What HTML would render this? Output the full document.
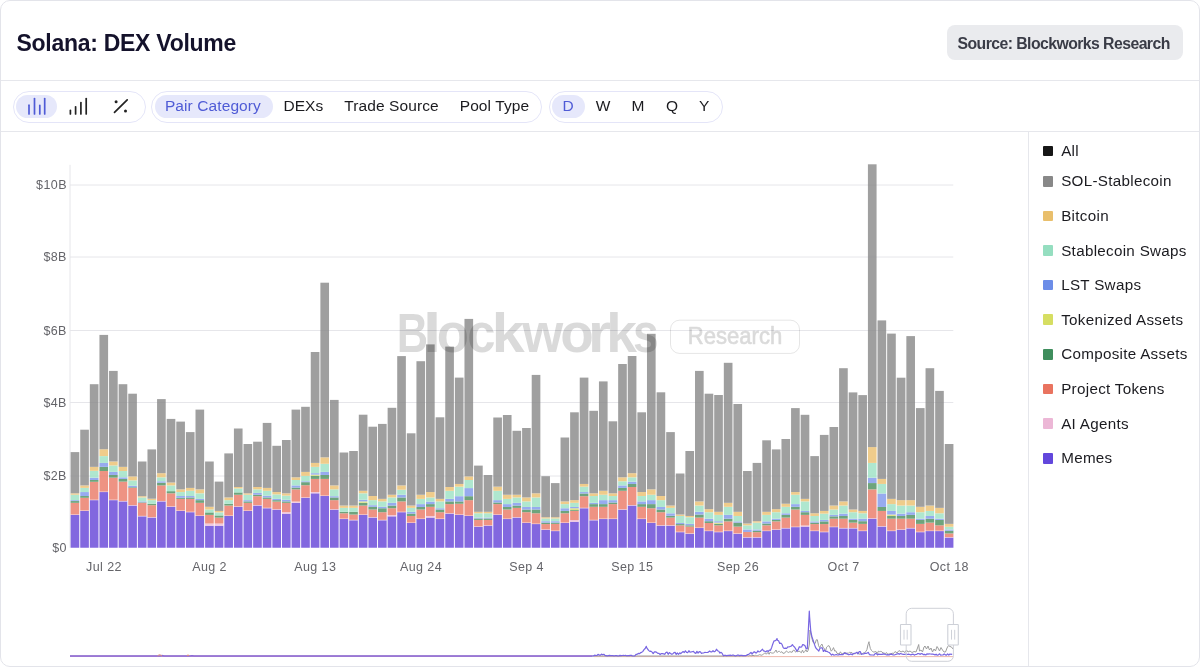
<!DOCTYPE html>
<html><head><meta charset="utf-8"><title>Solana: DEX Volume</title>
<style>
*{box-sizing:border-box;margin:0;padding:0}
html,body{width:1200px;height:667px;overflow:hidden;background:#fff;font-family:"Liberation Sans",sans-serif}
.card{position:absolute;left:0;top:0;width:1200px;height:667px;overflow:hidden;will-change:transform}
.frame{position:absolute;left:0;top:0;width:1200px;height:667px;border:1px solid #e3e4ea;border-radius:10px;pointer-events:none}
.title{position:absolute;left:16.5px;top:29.5px;font-size:23px;font-weight:700;color:#14122b;letter-spacing:-0.28px;white-space:nowrap}
.badge{position:absolute;left:946.5px;top:25px;width:236px;height:34.5px;background:#eaebee;border-radius:8px}
.badge span{position:absolute;left:11px;top:9.6px;font-size:15.8px;font-weight:700;color:#3a3c47;white-space:nowrap;letter-spacing:-0.56px}
.hl{position:absolute;left:0;width:1200px;height:1px;background:#e6e7ec}
.vl{position:absolute;left:1027.5px;top:131px;width:1px;height:536px;background:#e6e7ec}
.pill{position:absolute;top:90.5px;height:32px;border:1px solid #e4e5f8;border-radius:16px}
.sel{position:absolute;top:94.5px;height:23.8px;background:#e6e8fb;border-radius:12px}
.tab{position:absolute;top:97.4px;font-size:15.5px;color:#1b1b1f;white-space:nowrap;letter-spacing:0.1px}
.tab.on{color:#4f5bd6}
.sw{position:absolute;left:1042.6px;width:10.7px;height:10.7px;border-radius:1px}
.lt{position:absolute;left:1061.2px;font-size:15.2px;color:#1b1b20;white-space:nowrap;letter-spacing:0.3px}
svg{position:absolute;left:0;top:0}
.ax{font-family:"Liberation Sans",sans-serif;font-size:12.5px;fill:#646469;letter-spacing:0.42px}
</style></head>
<body>
<div class="card">
<div class="title">Solana: DEX Volume</div>
<div class="badge"><span>Source: Blockworks Research</span></div>
<div class="hl" style="top:80px"></div>
<div class="hl" style="top:131px"></div>
<div class="vl"></div>

<div class="pill" style="left:12.5px;width:133px"></div>
<div class="sel" style="left:15.8px;width:41.5px"></div>
<svg width="160" height="130" style="left:0;top:0">
<g stroke="#4f5bd6" stroke-width="1.7" stroke-linecap="round">
<line x1="29" y1="105.2" x2="29" y2="114"/><line x1="34.5" y1="98.5" x2="34.5" y2="114"/>
<line x1="39.8" y1="105.4" x2="39.8" y2="114"/><line x1="44.7" y1="98.5" x2="44.7" y2="114"/>
</g>
<g stroke="#222" stroke-width="1.7" stroke-linecap="round">
<line x1="70.4" y1="110.4" x2="70.4" y2="114"/><line x1="75.6" y1="106.8" x2="75.6" y2="114"/>
<line x1="80.9" y1="102.5" x2="80.9" y2="114"/><line x1="86.2" y1="98.5" x2="86.2" y2="114"/>
</g>
<g fill="#222" stroke="#222">
<line x1="114.5" y1="112.4" x2="127.2" y2="99.8" stroke-width="1.7" stroke-linecap="round"/>
<circle cx="116.1" cy="101.8" r="1.5" stroke="none"/><circle cx="125.5" cy="111" r="1.5" stroke="none"/>
</g>
</svg>

<div class="pill" style="left:151.3px;width:390.5px"></div>
<div class="sel" style="left:154.5px;width:118px"></div>
<div class="tab on" style="left:164.9px">Pair Category</div>
<div class="tab" style="left:283.4px">DEXs</div>
<div class="tab" style="left:344.2px">Trade Source</div>
<div class="tab" style="left:459.7px">Pool Type</div>

<div class="pill" style="left:548.7px;width:174.8px"></div>
<div class="sel" style="left:552px;width:33px"></div>
<div class="tab on" style="left:562.6px">D</div>
<div class="tab" style="left:595.8px">W</div>
<div class="tab" style="left:631.5px">M</div>
<div class="tab" style="left:666px">Q</div>
<div class="tab" style="left:699px">Y</div>

<svg width="1028" height="667" viewBox="0 0 1028 667">
<line x1="70" y1="164.8" x2="70" y2="547.75" stroke="#e6e6ea" stroke-width="1"/>
<text x="66.9" y="552.0" text-anchor="end" class="ax">$0</text>
<line x1="70" y1="476.00" x2="953.3" y2="476.00" stroke="#e6e6ea" stroke-width="1"/>
<text x="66.9" y="480.3" text-anchor="end" class="ax">$2B</text>
<line x1="70" y1="402.50" x2="953.3" y2="402.50" stroke="#e6e6ea" stroke-width="1"/>
<text x="66.9" y="406.8" text-anchor="end" class="ax">$4B</text>
<line x1="70" y1="330.50" x2="953.3" y2="330.50" stroke="#e6e6ea" stroke-width="1"/>
<text x="66.9" y="334.8" text-anchor="end" class="ax">$6B</text>
<line x1="70" y1="257.00" x2="953.3" y2="257.00" stroke="#e6e6ea" stroke-width="1"/>
<text x="66.9" y="261.3" text-anchor="end" class="ax">$8B</text>
<line x1="70" y1="185.00" x2="953.3" y2="185.00" stroke="#e6e6ea" stroke-width="1"/>
<text x="66.9" y="189.3" text-anchor="end" class="ax">$10B</text>
<g opacity="0.8">
<rect x="70.62" y="514.89" width="8.65" height="32.86" fill="#6342d8"/>
<rect x="70.62" y="514.44" width="8.65" height="0.45" fill="#efbad7"/>
<rect x="70.62" y="502.84" width="8.65" height="11.60" fill="#ea7965"/>
<rect x="70.62" y="501.04" width="8.65" height="1.80" fill="#4a8e5c"/>
<rect x="70.62" y="500.14" width="8.65" height="0.90" fill="#7e97ec"/>
<rect x="70.62" y="494.75" width="8.65" height="5.40" fill="#9ce2c4"/>
<rect x="70.62" y="493.31" width="8.65" height="1.44" fill="#ecc06f"/>
<rect x="70.62" y="452.10" width="8.65" height="41.21" fill="#888888"/>
<rect x="80.23" y="510.94" width="8.65" height="36.81" fill="#6342d8"/>
<rect x="80.23" y="510.49" width="8.65" height="0.45" fill="#efbad7"/>
<rect x="80.23" y="497.81" width="8.65" height="12.68" fill="#ea7965"/>
<rect x="80.23" y="496.01" width="8.65" height="1.80" fill="#4a8e5c"/>
<rect x="80.23" y="492.05" width="8.65" height="3.96" fill="#7e97ec"/>
<rect x="80.23" y="487.91" width="8.65" height="4.14" fill="#9ce2c4"/>
<rect x="80.23" y="485.40" width="8.65" height="2.52" fill="#ecc06f"/>
<rect x="80.23" y="429.70" width="8.65" height="55.70" fill="#888888"/>
<rect x="89.83" y="500.14" width="8.65" height="47.61" fill="#6342d8"/>
<rect x="89.83" y="499.69" width="8.65" height="0.45" fill="#efbad7"/>
<rect x="89.83" y="481.80" width="8.65" height="17.90" fill="#ea7965"/>
<rect x="89.83" y="480.00" width="8.65" height="1.80" fill="#4a8e5c"/>
<rect x="89.83" y="477.66" width="8.65" height="2.34" fill="#7e97ec"/>
<rect x="89.83" y="470.83" width="8.65" height="6.83" fill="#9ce2c4"/>
<rect x="89.83" y="466.87" width="8.65" height="3.96" fill="#ecc06f"/>
<rect x="89.83" y="384.20" width="8.65" height="82.67" fill="#888888"/>
<rect x="99.44" y="492.05" width="8.65" height="55.70" fill="#6342d8"/>
<rect x="99.44" y="491.60" width="8.65" height="0.45" fill="#efbad7"/>
<rect x="99.44" y="471.01" width="8.65" height="20.59" fill="#ea7965"/>
<rect x="99.44" y="466.87" width="8.65" height="4.14" fill="#4a8e5c"/>
<rect x="99.44" y="462.91" width="8.65" height="3.96" fill="#7e97ec"/>
<rect x="99.44" y="456.08" width="8.65" height="6.83" fill="#9ce2c4"/>
<rect x="99.44" y="449.24" width="8.65" height="6.83" fill="#ecc06f"/>
<rect x="99.44" y="334.90" width="8.65" height="114.34" fill="#888888"/>
<rect x="109.04" y="500.14" width="8.65" height="47.61" fill="#6342d8"/>
<rect x="109.04" y="499.69" width="8.65" height="0.45" fill="#efbad7"/>
<rect x="109.04" y="477.66" width="8.65" height="22.03" fill="#ea7965"/>
<rect x="109.04" y="474.96" width="8.65" height="2.70" fill="#4a8e5c"/>
<rect x="109.04" y="471.91" width="8.65" height="3.06" fill="#7e97ec"/>
<rect x="109.04" y="465.43" width="8.65" height="6.47" fill="#9ce2c4"/>
<rect x="109.04" y="461.47" width="8.65" height="3.96" fill="#ecc06f"/>
<rect x="109.04" y="370.90" width="8.65" height="90.57" fill="#888888"/>
<rect x="118.65" y="501.40" width="8.65" height="46.35" fill="#6342d8"/>
<rect x="118.65" y="500.95" width="8.65" height="0.45" fill="#efbad7"/>
<rect x="118.65" y="481.62" width="8.65" height="19.33" fill="#ea7965"/>
<rect x="118.65" y="478.92" width="8.65" height="2.70" fill="#4a8e5c"/>
<rect x="118.65" y="477.30" width="8.65" height="1.62" fill="#7e97ec"/>
<rect x="118.65" y="471.01" width="8.65" height="6.29" fill="#9ce2c4"/>
<rect x="118.65" y="466.87" width="8.65" height="4.14" fill="#ecc06f"/>
<rect x="118.65" y="384.20" width="8.65" height="82.67" fill="#888888"/>
<rect x="128.26" y="505.54" width="8.65" height="42.21" fill="#6342d8"/>
<rect x="128.26" y="505.09" width="8.65" height="0.45" fill="#efbad7"/>
<rect x="128.26" y="487.91" width="8.65" height="17.18" fill="#ea7965"/>
<rect x="128.26" y="487.19" width="8.65" height="0.72" fill="#4a8e5c"/>
<rect x="128.26" y="485.76" width="8.65" height="1.44" fill="#7e97ec"/>
<rect x="128.26" y="480.36" width="8.65" height="5.40" fill="#9ce2c4"/>
<rect x="128.26" y="476.40" width="8.65" height="3.96" fill="#ecc06f"/>
<rect x="128.26" y="393.70" width="8.65" height="82.70" fill="#888888"/>
<rect x="137.86" y="516.33" width="8.65" height="31.42" fill="#6342d8"/>
<rect x="137.86" y="515.88" width="8.65" height="0.45" fill="#efbad7"/>
<rect x="137.86" y="502.84" width="8.65" height="13.04" fill="#ea7965"/>
<rect x="137.86" y="502.30" width="8.65" height="0.54" fill="#4a8e5c"/>
<rect x="137.86" y="501.40" width="8.65" height="0.90" fill="#7e97ec"/>
<rect x="137.86" y="497.45" width="8.65" height="3.96" fill="#9ce2c4"/>
<rect x="137.86" y="496.19" width="8.65" height="1.26" fill="#ecc06f"/>
<rect x="137.86" y="461.50" width="8.65" height="34.69" fill="#888888"/>
<rect x="147.47" y="517.59" width="8.65" height="30.16" fill="#6342d8"/>
<rect x="147.47" y="517.14" width="8.65" height="0.45" fill="#efbad7"/>
<rect x="147.47" y="505.18" width="8.65" height="11.96" fill="#ea7965"/>
<rect x="147.47" y="503.74" width="8.65" height="1.44" fill="#4a8e5c"/>
<rect x="147.47" y="500.14" width="8.65" height="3.60" fill="#9ce2c4"/>
<rect x="147.47" y="498.71" width="8.65" height="1.44" fill="#ecc06f"/>
<rect x="147.47" y="449.40" width="8.65" height="49.31" fill="#888888"/>
<rect x="157.07" y="501.40" width="8.65" height="46.35" fill="#6342d8"/>
<rect x="157.07" y="500.95" width="8.65" height="0.45" fill="#efbad7"/>
<rect x="157.07" y="485.40" width="8.65" height="15.56" fill="#ea7965"/>
<rect x="157.07" y="482.70" width="8.65" height="2.70" fill="#4a8e5c"/>
<rect x="157.07" y="481.26" width="8.65" height="1.44" fill="#7e97ec"/>
<rect x="157.07" y="477.30" width="8.65" height="3.96" fill="#9ce2c4"/>
<rect x="157.07" y="473.17" width="8.65" height="4.14" fill="#ecc06f"/>
<rect x="157.07" y="399.10" width="8.65" height="74.07" fill="#888888"/>
<rect x="166.68" y="506.80" width="8.65" height="40.95" fill="#6342d8"/>
<rect x="166.68" y="506.35" width="8.65" height="0.45" fill="#efbad7"/>
<rect x="166.68" y="493.31" width="8.65" height="13.04" fill="#ea7965"/>
<rect x="166.68" y="491.15" width="8.65" height="2.16" fill="#4a8e5c"/>
<rect x="166.68" y="485.40" width="8.65" height="5.76" fill="#9ce2c4"/>
<rect x="166.68" y="482.52" width="8.65" height="2.88" fill="#ecc06f"/>
<rect x="166.68" y="418.90" width="8.65" height="63.62" fill="#888888"/>
<rect x="176.29" y="510.94" width="8.65" height="36.81" fill="#6342d8"/>
<rect x="176.29" y="510.49" width="8.65" height="0.45" fill="#efbad7"/>
<rect x="176.29" y="498.88" width="8.65" height="11.60" fill="#ea7965"/>
<rect x="176.29" y="497.81" width="8.65" height="1.08" fill="#4a8e5c"/>
<rect x="176.29" y="496.01" width="8.65" height="1.80" fill="#7e97ec"/>
<rect x="176.29" y="492.05" width="8.65" height="3.96" fill="#9ce2c4"/>
<rect x="176.29" y="489.35" width="8.65" height="2.70" fill="#ecc06f"/>
<rect x="176.29" y="421.60" width="8.65" height="67.75" fill="#888888"/>
<rect x="185.89" y="512.19" width="8.65" height="35.56" fill="#6342d8"/>
<rect x="185.89" y="511.74" width="8.65" height="0.45" fill="#efbad7"/>
<rect x="185.89" y="498.88" width="8.65" height="12.86" fill="#ea7965"/>
<rect x="185.89" y="497.45" width="8.65" height="1.44" fill="#4a8e5c"/>
<rect x="185.89" y="496.01" width="8.65" height="1.44" fill="#7e97ec"/>
<rect x="185.89" y="490.79" width="8.65" height="5.22" fill="#9ce2c4"/>
<rect x="185.89" y="487.91" width="8.65" height="2.88" fill="#ecc06f"/>
<rect x="185.89" y="432.10" width="8.65" height="55.81" fill="#888888"/>
<rect x="195.50" y="515.97" width="8.65" height="31.78" fill="#6342d8"/>
<rect x="195.50" y="515.52" width="8.65" height="0.45" fill="#efbad7"/>
<rect x="195.50" y="502.84" width="8.65" height="12.68" fill="#ea7965"/>
<rect x="195.50" y="500.14" width="8.65" height="2.70" fill="#4a8e5c"/>
<rect x="195.50" y="498.88" width="8.65" height="1.26" fill="#7e97ec"/>
<rect x="195.50" y="493.31" width="8.65" height="5.58" fill="#9ce2c4"/>
<rect x="195.50" y="489.35" width="8.65" height="3.96" fill="#ecc06f"/>
<rect x="195.50" y="409.60" width="8.65" height="79.75" fill="#888888"/>
<rect x="205.10" y="525.68" width="8.65" height="22.07" fill="#6342d8"/>
<rect x="205.10" y="523.53" width="8.65" height="2.16" fill="#efbad7"/>
<rect x="205.10" y="514.89" width="8.65" height="8.63" fill="#ea7965"/>
<rect x="205.10" y="512.37" width="8.65" height="2.52" fill="#4a8e5c"/>
<rect x="205.10" y="509.50" width="8.65" height="2.88" fill="#9ce2c4"/>
<rect x="205.10" y="506.80" width="8.65" height="2.70" fill="#ecc06f"/>
<rect x="205.10" y="461.50" width="8.65" height="45.30" fill="#888888"/>
<rect x="214.71" y="525.68" width="8.65" height="22.07" fill="#6342d8"/>
<rect x="214.71" y="523.53" width="8.65" height="2.16" fill="#efbad7"/>
<rect x="214.71" y="517.59" width="8.65" height="5.94" fill="#ea7965"/>
<rect x="214.71" y="515.43" width="8.65" height="2.16" fill="#4a8e5c"/>
<rect x="214.71" y="512.37" width="8.65" height="3.06" fill="#9ce2c4"/>
<rect x="214.71" y="510.94" width="8.65" height="1.44" fill="#ecc06f"/>
<rect x="214.71" y="481.60" width="8.65" height="29.34" fill="#888888"/>
<rect x="224.32" y="515.97" width="8.65" height="31.78" fill="#6342d8"/>
<rect x="224.32" y="515.52" width="8.65" height="0.45" fill="#efbad7"/>
<rect x="224.32" y="505.54" width="8.65" height="9.98" fill="#ea7965"/>
<rect x="224.32" y="503.74" width="8.65" height="1.80" fill="#4a8e5c"/>
<rect x="224.32" y="500.14" width="8.65" height="3.60" fill="#9ce2c4"/>
<rect x="224.32" y="497.45" width="8.65" height="2.70" fill="#ecc06f"/>
<rect x="224.32" y="453.40" width="8.65" height="44.05" fill="#888888"/>
<rect x="233.92" y="506.80" width="8.65" height="40.95" fill="#6342d8"/>
<rect x="233.92" y="506.35" width="8.65" height="0.45" fill="#efbad7"/>
<rect x="233.92" y="494.75" width="8.65" height="11.60" fill="#ea7965"/>
<rect x="233.92" y="492.41" width="8.65" height="2.34" fill="#4a8e5c"/>
<rect x="233.92" y="488.45" width="8.65" height="3.96" fill="#9ce2c4"/>
<rect x="233.92" y="487.01" width="8.65" height="1.44" fill="#ecc06f"/>
<rect x="233.92" y="428.50" width="8.65" height="58.51" fill="#888888"/>
<rect x="243.53" y="510.94" width="8.65" height="36.81" fill="#6342d8"/>
<rect x="243.53" y="510.49" width="8.65" height="0.45" fill="#efbad7"/>
<rect x="243.53" y="502.84" width="8.65" height="7.64" fill="#ea7965"/>
<rect x="243.53" y="501.40" width="8.65" height="1.44" fill="#4a8e5c"/>
<rect x="243.53" y="500.14" width="8.65" height="1.26" fill="#7e97ec"/>
<rect x="243.53" y="494.75" width="8.65" height="5.40" fill="#9ce2c4"/>
<rect x="243.53" y="493.31" width="8.65" height="1.44" fill="#ecc06f"/>
<rect x="243.53" y="444.00" width="8.65" height="49.31" fill="#888888"/>
<rect x="253.13" y="505.54" width="8.65" height="42.21" fill="#6342d8"/>
<rect x="253.13" y="505.09" width="8.65" height="0.45" fill="#efbad7"/>
<rect x="253.13" y="496.19" width="8.65" height="8.90" fill="#ea7965"/>
<rect x="253.13" y="494.75" width="8.65" height="1.44" fill="#4a8e5c"/>
<rect x="253.13" y="492.95" width="8.65" height="1.80" fill="#7e97ec"/>
<rect x="253.13" y="489.35" width="8.65" height="3.60" fill="#9ce2c4"/>
<rect x="253.13" y="487.01" width="8.65" height="2.34" fill="#ecc06f"/>
<rect x="253.13" y="441.70" width="8.65" height="45.31" fill="#888888"/>
<rect x="262.74" y="508.24" width="8.65" height="39.51" fill="#6342d8"/>
<rect x="262.74" y="507.79" width="8.65" height="0.45" fill="#efbad7"/>
<rect x="262.74" y="498.88" width="8.65" height="8.90" fill="#ea7965"/>
<rect x="262.74" y="497.45" width="8.65" height="1.44" fill="#4a8e5c"/>
<rect x="262.74" y="495.65" width="8.65" height="1.80" fill="#7e97ec"/>
<rect x="262.74" y="490.79" width="8.65" height="4.86" fill="#9ce2c4"/>
<rect x="262.74" y="487.91" width="8.65" height="2.88" fill="#ecc06f"/>
<rect x="262.74" y="422.90" width="8.65" height="65.01" fill="#888888"/>
<rect x="272.35" y="509.68" width="8.65" height="38.07" fill="#6342d8"/>
<rect x="272.35" y="509.23" width="8.65" height="0.45" fill="#efbad7"/>
<rect x="272.35" y="501.58" width="8.65" height="7.64" fill="#ea7965"/>
<rect x="272.35" y="500.14" width="8.65" height="1.44" fill="#4a8e5c"/>
<rect x="272.35" y="498.88" width="8.65" height="1.26" fill="#7e97ec"/>
<rect x="272.35" y="494.39" width="8.65" height="4.50" fill="#9ce2c4"/>
<rect x="272.35" y="492.05" width="8.65" height="2.34" fill="#ecc06f"/>
<rect x="272.35" y="445.80" width="8.65" height="46.25" fill="#888888"/>
<rect x="281.95" y="513.63" width="8.65" height="34.12" fill="#6342d8"/>
<rect x="281.95" y="512.19" width="8.65" height="1.44" fill="#efbad7"/>
<rect x="281.95" y="502.84" width="8.65" height="9.35" fill="#ea7965"/>
<rect x="281.95" y="501.40" width="8.65" height="1.44" fill="#4a8e5c"/>
<rect x="281.95" y="499.78" width="8.65" height="1.62" fill="#7e97ec"/>
<rect x="281.95" y="495.65" width="8.65" height="4.14" fill="#9ce2c4"/>
<rect x="281.95" y="493.31" width="8.65" height="2.34" fill="#ecc06f"/>
<rect x="281.95" y="440.00" width="8.65" height="53.31" fill="#888888"/>
<rect x="291.56" y="502.84" width="8.65" height="44.91" fill="#6342d8"/>
<rect x="291.56" y="501.58" width="8.65" height="1.26" fill="#efbad7"/>
<rect x="291.56" y="489.35" width="8.65" height="12.23" fill="#ea7965"/>
<rect x="291.56" y="487.55" width="8.65" height="1.80" fill="#4a8e5c"/>
<rect x="291.56" y="485.40" width="8.65" height="2.16" fill="#7e97ec"/>
<rect x="291.56" y="480.00" width="8.65" height="5.40" fill="#9ce2c4"/>
<rect x="291.56" y="477.30" width="8.65" height="2.70" fill="#ecc06f"/>
<rect x="291.56" y="409.60" width="8.65" height="67.70" fill="#888888"/>
<rect x="301.16" y="497.81" width="8.65" height="49.94" fill="#6342d8"/>
<rect x="301.16" y="497.36" width="8.65" height="0.45" fill="#efbad7"/>
<rect x="301.16" y="485.22" width="8.65" height="12.14" fill="#ea7965"/>
<rect x="301.16" y="482.16" width="8.65" height="3.06" fill="#4a8e5c"/>
<rect x="301.16" y="481.26" width="8.65" height="0.90" fill="#7e97ec"/>
<rect x="301.16" y="475.86" width="8.65" height="5.40" fill="#9ce2c4"/>
<rect x="301.16" y="471.91" width="8.65" height="3.96" fill="#ecc06f"/>
<rect x="301.16" y="406.80" width="8.65" height="65.11" fill="#888888"/>
<rect x="310.77" y="493.31" width="8.65" height="54.44" fill="#6342d8"/>
<rect x="310.77" y="492.05" width="8.65" height="1.26" fill="#efbad7"/>
<rect x="310.77" y="478.92" width="8.65" height="13.13" fill="#ea7965"/>
<rect x="310.77" y="475.86" width="8.65" height="3.06" fill="#4a8e5c"/>
<rect x="310.77" y="474.60" width="8.65" height="1.26" fill="#d3db6f"/>
<rect x="310.77" y="473.17" width="8.65" height="1.44" fill="#7e97ec"/>
<rect x="310.77" y="466.87" width="8.65" height="6.29" fill="#9ce2c4"/>
<rect x="310.77" y="462.91" width="8.65" height="3.96" fill="#ecc06f"/>
<rect x="310.77" y="352.00" width="8.65" height="110.91" fill="#888888"/>
<rect x="320.38" y="496.01" width="8.65" height="51.74" fill="#6342d8"/>
<rect x="320.38" y="495.56" width="8.65" height="0.45" fill="#efbad7"/>
<rect x="320.38" y="478.92" width="8.65" height="16.64" fill="#ea7965"/>
<rect x="320.38" y="474.96" width="8.65" height="3.96" fill="#4a8e5c"/>
<rect x="320.38" y="471.91" width="8.65" height="3.06" fill="#7e97ec"/>
<rect x="320.38" y="463.81" width="8.65" height="8.09" fill="#9ce2c4"/>
<rect x="320.38" y="457.34" width="8.65" height="6.47" fill="#ecc06f"/>
<rect x="320.38" y="282.70" width="8.65" height="174.64" fill="#888888"/>
<rect x="329.98" y="509.68" width="8.65" height="38.07" fill="#6342d8"/>
<rect x="329.98" y="509.23" width="8.65" height="0.45" fill="#efbad7"/>
<rect x="329.98" y="500.14" width="8.65" height="9.08" fill="#ea7965"/>
<rect x="329.98" y="497.45" width="8.65" height="2.70" fill="#4a8e5c"/>
<rect x="329.98" y="496.19" width="8.65" height="1.26" fill="#7e97ec"/>
<rect x="329.98" y="489.35" width="8.65" height="6.83" fill="#9ce2c4"/>
<rect x="329.98" y="485.40" width="8.65" height="3.96" fill="#ecc06f"/>
<rect x="329.98" y="399.90" width="8.65" height="85.50" fill="#888888"/>
<rect x="339.59" y="519.03" width="8.65" height="28.72" fill="#6342d8"/>
<rect x="339.59" y="518.58" width="8.65" height="0.45" fill="#efbad7"/>
<rect x="339.59" y="513.27" width="8.65" height="5.31" fill="#ea7965"/>
<rect x="339.59" y="511.83" width="8.65" height="1.44" fill="#4a8e5c"/>
<rect x="339.59" y="507.88" width="8.65" height="3.96" fill="#9ce2c4"/>
<rect x="339.59" y="505.54" width="8.65" height="2.34" fill="#ecc06f"/>
<rect x="339.59" y="452.50" width="8.65" height="53.04" fill="#888888"/>
<rect x="349.19" y="520.29" width="8.65" height="27.46" fill="#6342d8"/>
<rect x="349.19" y="519.84" width="8.65" height="0.45" fill="#efbad7"/>
<rect x="349.19" y="514.53" width="8.65" height="5.31" fill="#ea7965"/>
<rect x="349.19" y="511.83" width="8.65" height="2.70" fill="#4a8e5c"/>
<rect x="349.19" y="507.88" width="8.65" height="3.96" fill="#9ce2c4"/>
<rect x="349.19" y="505.54" width="8.65" height="2.34" fill="#ecc06f"/>
<rect x="349.19" y="451.00" width="8.65" height="54.54" fill="#888888"/>
<rect x="358.80" y="514.89" width="8.65" height="32.86" fill="#6342d8"/>
<rect x="358.80" y="514.44" width="8.65" height="0.45" fill="#efbad7"/>
<rect x="358.80" y="505.54" width="8.65" height="8.90" fill="#ea7965"/>
<rect x="358.80" y="502.84" width="8.65" height="2.70" fill="#4a8e5c"/>
<rect x="358.80" y="501.40" width="8.65" height="1.44" fill="#d3db6f"/>
<rect x="358.80" y="499.78" width="8.65" height="1.62" fill="#7e97ec"/>
<rect x="358.80" y="493.31" width="8.65" height="6.47" fill="#9ce2c4"/>
<rect x="358.80" y="490.79" width="8.65" height="2.52" fill="#ecc06f"/>
<rect x="358.80" y="414.70" width="8.65" height="76.09" fill="#888888"/>
<rect x="368.41" y="517.59" width="8.65" height="30.16" fill="#6342d8"/>
<rect x="368.41" y="517.14" width="8.65" height="0.45" fill="#efbad7"/>
<rect x="368.41" y="509.50" width="8.65" height="7.64" fill="#ea7965"/>
<rect x="368.41" y="506.80" width="8.65" height="2.70" fill="#4a8e5c"/>
<rect x="368.41" y="505.18" width="8.65" height="1.62" fill="#7e97ec"/>
<rect x="368.41" y="500.14" width="8.65" height="5.04" fill="#9ce2c4"/>
<rect x="368.41" y="496.01" width="8.65" height="4.14" fill="#ecc06f"/>
<rect x="368.41" y="426.70" width="8.65" height="69.31" fill="#888888"/>
<rect x="378.01" y="520.29" width="8.65" height="27.46" fill="#6342d8"/>
<rect x="378.01" y="519.84" width="8.65" height="0.45" fill="#efbad7"/>
<rect x="378.01" y="512.19" width="8.65" height="7.64" fill="#ea7965"/>
<rect x="378.01" y="508.24" width="8.65" height="3.96" fill="#4a8e5c"/>
<rect x="378.01" y="506.80" width="8.65" height="1.44" fill="#7e97ec"/>
<rect x="378.01" y="501.40" width="8.65" height="5.40" fill="#9ce2c4"/>
<rect x="378.01" y="498.88" width="8.65" height="2.52" fill="#ecc06f"/>
<rect x="378.01" y="423.90" width="8.65" height="74.98" fill="#888888"/>
<rect x="387.62" y="516.33" width="8.65" height="31.42" fill="#6342d8"/>
<rect x="387.62" y="515.07" width="8.65" height="1.26" fill="#efbad7"/>
<rect x="387.62" y="508.24" width="8.65" height="6.83" fill="#ea7965"/>
<rect x="387.62" y="505.54" width="8.65" height="2.70" fill="#4a8e5c"/>
<rect x="387.62" y="502.84" width="8.65" height="2.70" fill="#7e97ec"/>
<rect x="387.62" y="497.45" width="8.65" height="5.40" fill="#9ce2c4"/>
<rect x="387.62" y="494.75" width="8.65" height="2.70" fill="#ecc06f"/>
<rect x="387.62" y="407.80" width="8.65" height="86.95" fill="#888888"/>
<rect x="397.22" y="512.19" width="8.65" height="35.56" fill="#6342d8"/>
<rect x="397.22" y="511.74" width="8.65" height="0.45" fill="#efbad7"/>
<rect x="397.22" y="501.40" width="8.65" height="10.34" fill="#ea7965"/>
<rect x="397.22" y="497.45" width="8.65" height="3.96" fill="#4a8e5c"/>
<rect x="397.22" y="494.75" width="8.65" height="2.70" fill="#7e97ec"/>
<rect x="397.22" y="489.71" width="8.65" height="5.04" fill="#9ce2c4"/>
<rect x="397.22" y="485.40" width="8.65" height="4.32" fill="#ecc06f"/>
<rect x="397.22" y="356.10" width="8.65" height="129.30" fill="#888888"/>
<rect x="406.83" y="522.99" width="8.65" height="24.76" fill="#6342d8"/>
<rect x="406.83" y="522.54" width="8.65" height="0.45" fill="#efbad7"/>
<rect x="406.83" y="515.97" width="8.65" height="6.56" fill="#ea7965"/>
<rect x="406.83" y="513.63" width="8.65" height="2.34" fill="#4a8e5c"/>
<rect x="406.83" y="511.83" width="8.65" height="1.80" fill="#7e97ec"/>
<rect x="406.83" y="507.88" width="8.65" height="3.96" fill="#9ce2c4"/>
<rect x="406.83" y="505.54" width="8.65" height="2.34" fill="#ecc06f"/>
<rect x="406.83" y="433.30" width="8.65" height="72.24" fill="#888888"/>
<rect x="416.44" y="519.03" width="8.65" height="28.72" fill="#6342d8"/>
<rect x="416.44" y="518.58" width="8.65" height="0.45" fill="#efbad7"/>
<rect x="416.44" y="509.50" width="8.65" height="9.08" fill="#ea7965"/>
<rect x="416.44" y="506.98" width="8.65" height="2.52" fill="#4a8e5c"/>
<rect x="416.44" y="504.10" width="8.65" height="2.88" fill="#7e97ec"/>
<rect x="416.44" y="498.88" width="8.65" height="5.22" fill="#9ce2c4"/>
<rect x="416.44" y="494.75" width="8.65" height="4.14" fill="#ecc06f"/>
<rect x="416.44" y="361.20" width="8.65" height="133.55" fill="#888888"/>
<rect x="426.04" y="517.59" width="8.65" height="30.16" fill="#6342d8"/>
<rect x="426.04" y="515.97" width="8.65" height="1.62" fill="#efbad7"/>
<rect x="426.04" y="506.80" width="8.65" height="9.17" fill="#ea7965"/>
<rect x="426.04" y="504.10" width="8.65" height="2.70" fill="#4a8e5c"/>
<rect x="426.04" y="501.58" width="8.65" height="2.52" fill="#7e97ec"/>
<rect x="426.04" y="497.45" width="8.65" height="4.14" fill="#9ce2c4"/>
<rect x="426.04" y="492.05" width="8.65" height="5.40" fill="#ecc06f"/>
<rect x="426.04" y="344.40" width="8.65" height="147.65" fill="#888888"/>
<rect x="435.65" y="519.03" width="8.65" height="28.72" fill="#6342d8"/>
<rect x="435.65" y="518.58" width="8.65" height="0.45" fill="#efbad7"/>
<rect x="435.65" y="512.19" width="8.65" height="6.38" fill="#ea7965"/>
<rect x="435.65" y="509.50" width="8.65" height="2.70" fill="#4a8e5c"/>
<rect x="435.65" y="508.24" width="8.65" height="1.26" fill="#7e97ec"/>
<rect x="435.65" y="501.40" width="8.65" height="6.83" fill="#9ce2c4"/>
<rect x="435.65" y="498.88" width="8.65" height="2.52" fill="#ecc06f"/>
<rect x="435.65" y="417.30" width="8.65" height="81.58" fill="#888888"/>
<rect x="445.25" y="513.63" width="8.65" height="34.12" fill="#6342d8"/>
<rect x="445.25" y="513.18" width="8.65" height="0.45" fill="#efbad7"/>
<rect x="445.25" y="504.10" width="8.65" height="9.08" fill="#ea7965"/>
<rect x="445.25" y="501.40" width="8.65" height="2.70" fill="#4a8e5c"/>
<rect x="445.25" y="498.88" width="8.65" height="2.52" fill="#7e97ec"/>
<rect x="445.25" y="490.79" width="8.65" height="8.09" fill="#9ce2c4"/>
<rect x="445.25" y="487.01" width="8.65" height="3.78" fill="#ecc06f"/>
<rect x="445.25" y="346.60" width="8.65" height="140.41" fill="#888888"/>
<rect x="454.86" y="514.89" width="8.65" height="32.86" fill="#6342d8"/>
<rect x="454.86" y="514.44" width="8.65" height="0.45" fill="#efbad7"/>
<rect x="454.86" y="503.74" width="8.65" height="10.70" fill="#ea7965"/>
<rect x="454.86" y="501.40" width="8.65" height="2.34" fill="#4a8e5c"/>
<rect x="454.86" y="496.19" width="8.65" height="5.22" fill="#7e97ec"/>
<rect x="454.86" y="486.65" width="8.65" height="9.53" fill="#9ce2c4"/>
<rect x="454.86" y="483.96" width="8.65" height="2.70" fill="#ecc06f"/>
<rect x="454.86" y="377.60" width="8.65" height="106.36" fill="#888888"/>
<rect x="464.47" y="515.97" width="8.65" height="31.78" fill="#6342d8"/>
<rect x="464.47" y="515.52" width="8.65" height="0.45" fill="#efbad7"/>
<rect x="464.47" y="500.14" width="8.65" height="15.38" fill="#ea7965"/>
<rect x="464.47" y="496.19" width="8.65" height="3.96" fill="#4a8e5c"/>
<rect x="464.47" y="488.09" width="8.65" height="8.09" fill="#7e97ec"/>
<rect x="464.47" y="480.00" width="8.65" height="8.09" fill="#9ce2c4"/>
<rect x="464.47" y="476.40" width="8.65" height="3.60" fill="#ecc06f"/>
<rect x="464.47" y="318.90" width="8.65" height="157.50" fill="#888888"/>
<rect x="474.07" y="526.76" width="8.65" height="20.99" fill="#6342d8"/>
<rect x="474.07" y="526.31" width="8.65" height="0.45" fill="#efbad7"/>
<rect x="474.07" y="519.93" width="8.65" height="6.38" fill="#ea7965"/>
<rect x="474.07" y="518.49" width="8.65" height="1.44" fill="#4a8e5c"/>
<rect x="474.07" y="517.59" width="8.65" height="0.90" fill="#7e97ec"/>
<rect x="474.07" y="513.27" width="8.65" height="4.32" fill="#9ce2c4"/>
<rect x="474.07" y="511.83" width="8.65" height="1.44" fill="#ecc06f"/>
<rect x="474.07" y="465.60" width="8.65" height="46.23" fill="#888888"/>
<rect x="483.68" y="525.68" width="8.65" height="22.07" fill="#6342d8"/>
<rect x="483.68" y="525.23" width="8.65" height="0.45" fill="#efbad7"/>
<rect x="483.68" y="519.93" width="8.65" height="5.31" fill="#ea7965"/>
<rect x="483.68" y="518.49" width="8.65" height="1.44" fill="#4a8e5c"/>
<rect x="483.68" y="517.59" width="8.65" height="0.90" fill="#7e97ec"/>
<rect x="483.68" y="513.27" width="8.65" height="4.32" fill="#9ce2c4"/>
<rect x="483.68" y="511.83" width="8.65" height="1.44" fill="#ecc06f"/>
<rect x="483.68" y="475.00" width="8.65" height="36.83" fill="#888888"/>
<rect x="493.28" y="514.89" width="8.65" height="32.86" fill="#6342d8"/>
<rect x="493.28" y="514.44" width="8.65" height="0.45" fill="#efbad7"/>
<rect x="493.28" y="504.10" width="8.65" height="10.34" fill="#ea7965"/>
<rect x="493.28" y="502.48" width="8.65" height="1.62" fill="#4a8e5c"/>
<rect x="493.28" y="500.14" width="8.65" height="2.34" fill="#7e97ec"/>
<rect x="493.28" y="490.79" width="8.65" height="9.35" fill="#9ce2c4"/>
<rect x="493.28" y="486.65" width="8.65" height="4.14" fill="#ecc06f"/>
<rect x="493.28" y="417.50" width="8.65" height="69.15" fill="#888888"/>
<rect x="502.89" y="519.03" width="8.65" height="28.72" fill="#6342d8"/>
<rect x="502.89" y="518.58" width="8.65" height="0.45" fill="#efbad7"/>
<rect x="502.89" y="509.50" width="8.65" height="9.08" fill="#ea7965"/>
<rect x="502.89" y="506.98" width="8.65" height="2.52" fill="#4a8e5c"/>
<rect x="502.89" y="504.10" width="8.65" height="2.88" fill="#7e97ec"/>
<rect x="502.89" y="498.88" width="8.65" height="5.22" fill="#9ce2c4"/>
<rect x="502.89" y="494.75" width="8.65" height="4.14" fill="#ecc06f"/>
<rect x="502.89" y="415.00" width="8.65" height="79.75" fill="#888888"/>
<rect x="512.50" y="517.59" width="8.65" height="30.16" fill="#6342d8"/>
<rect x="512.50" y="517.14" width="8.65" height="0.45" fill="#efbad7"/>
<rect x="512.50" y="507.88" width="8.65" height="9.26" fill="#ea7965"/>
<rect x="512.50" y="505.54" width="8.65" height="2.34" fill="#4a8e5c"/>
<rect x="512.50" y="502.84" width="8.65" height="2.70" fill="#7e97ec"/>
<rect x="512.50" y="497.45" width="8.65" height="5.40" fill="#9ce2c4"/>
<rect x="512.50" y="494.75" width="8.65" height="2.70" fill="#ecc06f"/>
<rect x="512.50" y="430.80" width="8.65" height="63.95" fill="#888888"/>
<rect x="522.10" y="522.99" width="8.65" height="24.76" fill="#6342d8"/>
<rect x="522.10" y="522.54" width="8.65" height="0.45" fill="#efbad7"/>
<rect x="522.10" y="512.19" width="8.65" height="10.34" fill="#ea7965"/>
<rect x="522.10" y="509.50" width="8.65" height="2.70" fill="#4a8e5c"/>
<rect x="522.10" y="506.98" width="8.65" height="2.52" fill="#7e97ec"/>
<rect x="522.10" y="501.40" width="8.65" height="5.58" fill="#9ce2c4"/>
<rect x="522.10" y="497.45" width="8.65" height="3.96" fill="#ecc06f"/>
<rect x="522.10" y="428.00" width="8.65" height="69.45" fill="#888888"/>
<rect x="531.71" y="524.06" width="8.65" height="23.69" fill="#6342d8"/>
<rect x="531.71" y="523.62" width="8.65" height="0.45" fill="#efbad7"/>
<rect x="531.71" y="513.27" width="8.65" height="10.34" fill="#ea7965"/>
<rect x="531.71" y="509.50" width="8.65" height="3.78" fill="#4a8e5c"/>
<rect x="531.71" y="506.98" width="8.65" height="2.52" fill="#7e97ec"/>
<rect x="531.71" y="497.45" width="8.65" height="9.53" fill="#9ce2c4"/>
<rect x="531.71" y="493.31" width="8.65" height="4.14" fill="#ecc06f"/>
<rect x="531.71" y="374.90" width="8.65" height="118.41" fill="#888888"/>
<rect x="541.31" y="529.82" width="8.65" height="17.93" fill="#6342d8"/>
<rect x="541.31" y="529.37" width="8.65" height="0.45" fill="#efbad7"/>
<rect x="541.31" y="524.06" width="8.65" height="5.31" fill="#ea7965"/>
<rect x="541.31" y="522.63" width="8.65" height="1.44" fill="#4a8e5c"/>
<rect x="541.31" y="521.19" width="8.65" height="1.44" fill="#7e97ec"/>
<rect x="541.31" y="518.49" width="8.65" height="2.70" fill="#9ce2c4"/>
<rect x="541.31" y="517.23" width="8.65" height="1.26" fill="#ecc06f"/>
<rect x="541.31" y="476.20" width="8.65" height="41.03" fill="#888888"/>
<rect x="550.92" y="531.08" width="8.65" height="16.67" fill="#6342d8"/>
<rect x="550.92" y="530.63" width="8.65" height="0.45" fill="#efbad7"/>
<rect x="550.92" y="523.88" width="8.65" height="6.74" fill="#ea7965"/>
<rect x="550.92" y="522.63" width="8.65" height="1.26" fill="#4a8e5c"/>
<rect x="550.92" y="521.19" width="8.65" height="1.44" fill="#7e97ec"/>
<rect x="550.92" y="518.49" width="8.65" height="2.70" fill="#9ce2c4"/>
<rect x="550.92" y="517.23" width="8.65" height="1.26" fill="#ecc06f"/>
<rect x="550.92" y="483.10" width="8.65" height="34.13" fill="#888888"/>
<rect x="560.53" y="522.99" width="8.65" height="24.76" fill="#6342d8"/>
<rect x="560.53" y="522.54" width="8.65" height="0.45" fill="#efbad7"/>
<rect x="560.53" y="513.27" width="8.65" height="9.26" fill="#ea7965"/>
<rect x="560.53" y="510.94" width="8.65" height="2.34" fill="#4a8e5c"/>
<rect x="560.53" y="508.24" width="8.65" height="2.70" fill="#7e97ec"/>
<rect x="560.53" y="504.10" width="8.65" height="4.14" fill="#9ce2c4"/>
<rect x="560.53" y="501.40" width="8.65" height="2.70" fill="#ecc06f"/>
<rect x="560.53" y="437.50" width="8.65" height="63.90" fill="#888888"/>
<rect x="570.13" y="521.73" width="8.65" height="26.02" fill="#6342d8"/>
<rect x="570.13" y="520.11" width="8.65" height="1.62" fill="#efbad7"/>
<rect x="570.13" y="510.94" width="8.65" height="9.17" fill="#ea7965"/>
<rect x="570.13" y="510.04" width="8.65" height="0.90" fill="#4a8e5c"/>
<rect x="570.13" y="508.24" width="8.65" height="1.80" fill="#d3db6f"/>
<rect x="570.13" y="506.98" width="8.65" height="1.26" fill="#7e97ec"/>
<rect x="570.13" y="502.84" width="8.65" height="4.14" fill="#9ce2c4"/>
<rect x="570.13" y="500.14" width="8.65" height="2.70" fill="#ecc06f"/>
<rect x="570.13" y="412.30" width="8.65" height="87.84" fill="#888888"/>
<rect x="579.74" y="508.24" width="8.65" height="39.51" fill="#6342d8"/>
<rect x="579.74" y="507.79" width="8.65" height="0.45" fill="#efbad7"/>
<rect x="579.74" y="496.19" width="8.65" height="11.60" fill="#ea7965"/>
<rect x="579.74" y="493.49" width="8.65" height="2.70" fill="#4a8e5c"/>
<rect x="579.74" y="492.05" width="8.65" height="1.44" fill="#7e97ec"/>
<rect x="579.74" y="486.65" width="8.65" height="5.40" fill="#9ce2c4"/>
<rect x="579.74" y="483.96" width="8.65" height="2.70" fill="#ecc06f"/>
<rect x="579.74" y="377.60" width="8.65" height="106.36" fill="#888888"/>
<rect x="589.34" y="520.29" width="8.65" height="27.46" fill="#6342d8"/>
<rect x="589.34" y="519.84" width="8.65" height="0.45" fill="#efbad7"/>
<rect x="589.34" y="506.80" width="8.65" height="13.04" fill="#ea7965"/>
<rect x="589.34" y="504.10" width="8.65" height="2.70" fill="#4a8e5c"/>
<rect x="589.34" y="502.84" width="8.65" height="1.26" fill="#7e97ec"/>
<rect x="589.34" y="496.01" width="8.65" height="6.83" fill="#9ce2c4"/>
<rect x="589.34" y="493.31" width="8.65" height="2.70" fill="#ecc06f"/>
<rect x="589.34" y="410.80" width="8.65" height="82.51" fill="#888888"/>
<rect x="598.95" y="519.03" width="8.65" height="28.72" fill="#6342d8"/>
<rect x="598.95" y="518.58" width="8.65" height="0.45" fill="#efbad7"/>
<rect x="598.95" y="506.80" width="8.65" height="11.78" fill="#ea7965"/>
<rect x="598.95" y="504.10" width="8.65" height="2.70" fill="#4a8e5c"/>
<rect x="598.95" y="500.14" width="8.65" height="3.96" fill="#7e97ec"/>
<rect x="598.95" y="494.75" width="8.65" height="5.40" fill="#9ce2c4"/>
<rect x="598.95" y="490.79" width="8.65" height="3.96" fill="#ecc06f"/>
<rect x="598.95" y="381.40" width="8.65" height="109.39" fill="#888888"/>
<rect x="608.56" y="519.03" width="8.65" height="28.72" fill="#6342d8"/>
<rect x="608.56" y="518.58" width="8.65" height="0.45" fill="#efbad7"/>
<rect x="608.56" y="504.10" width="8.65" height="14.48" fill="#ea7965"/>
<rect x="608.56" y="502.48" width="8.65" height="1.62" fill="#4a8e5c"/>
<rect x="608.56" y="500.14" width="8.65" height="2.34" fill="#7e97ec"/>
<rect x="608.56" y="496.01" width="8.65" height="4.14" fill="#9ce2c4"/>
<rect x="608.56" y="493.31" width="8.65" height="2.70" fill="#ecc06f"/>
<rect x="608.56" y="421.30" width="8.65" height="72.01" fill="#888888"/>
<rect x="618.16" y="509.68" width="8.65" height="38.07" fill="#6342d8"/>
<rect x="618.16" y="509.23" width="8.65" height="0.45" fill="#efbad7"/>
<rect x="618.16" y="490.79" width="8.65" height="18.44" fill="#ea7965"/>
<rect x="618.16" y="487.91" width="8.65" height="2.88" fill="#4a8e5c"/>
<rect x="618.16" y="485.40" width="8.65" height="2.52" fill="#7e97ec"/>
<rect x="618.16" y="481.26" width="8.65" height="4.14" fill="#9ce2c4"/>
<rect x="618.16" y="477.30" width="8.65" height="3.96" fill="#ecc06f"/>
<rect x="618.16" y="364.00" width="8.65" height="113.30" fill="#888888"/>
<rect x="627.77" y="505.54" width="8.65" height="42.21" fill="#6342d8"/>
<rect x="627.77" y="505.09" width="8.65" height="0.45" fill="#efbad7"/>
<rect x="627.77" y="487.01" width="8.65" height="18.08" fill="#ea7965"/>
<rect x="627.77" y="483.96" width="8.65" height="3.06" fill="#4a8e5c"/>
<rect x="627.77" y="481.62" width="8.65" height="2.34" fill="#7e97ec"/>
<rect x="627.77" y="477.30" width="8.65" height="4.32" fill="#9ce2c4"/>
<rect x="627.77" y="473.17" width="8.65" height="4.14" fill="#ecc06f"/>
<rect x="627.77" y="356.00" width="8.65" height="117.17" fill="#888888"/>
<rect x="637.37" y="519.03" width="8.65" height="28.72" fill="#6342d8"/>
<rect x="637.37" y="518.58" width="8.65" height="0.45" fill="#efbad7"/>
<rect x="637.37" y="506.80" width="8.65" height="11.78" fill="#ea7965"/>
<rect x="637.37" y="504.10" width="8.65" height="2.70" fill="#4a8e5c"/>
<rect x="637.37" y="501.40" width="8.65" height="2.70" fill="#7e97ec"/>
<rect x="637.37" y="496.01" width="8.65" height="5.40" fill="#9ce2c4"/>
<rect x="637.37" y="492.05" width="8.65" height="3.96" fill="#ecc06f"/>
<rect x="637.37" y="412.30" width="8.65" height="79.75" fill="#888888"/>
<rect x="646.98" y="522.99" width="8.65" height="24.76" fill="#6342d8"/>
<rect x="646.98" y="522.54" width="8.65" height="0.45" fill="#efbad7"/>
<rect x="646.98" y="508.24" width="8.65" height="14.30" fill="#ea7965"/>
<rect x="646.98" y="504.10" width="8.65" height="4.14" fill="#4a8e5c"/>
<rect x="646.98" y="500.14" width="8.65" height="3.96" fill="#7e97ec"/>
<rect x="646.98" y="494.75" width="8.65" height="5.40" fill="#9ce2c4"/>
<rect x="646.98" y="489.35" width="8.65" height="5.40" fill="#ecc06f"/>
<rect x="646.98" y="333.80" width="8.65" height="155.55" fill="#888888"/>
<rect x="656.59" y="525.68" width="8.65" height="22.07" fill="#6342d8"/>
<rect x="656.59" y="525.23" width="8.65" height="0.45" fill="#efbad7"/>
<rect x="656.59" y="512.19" width="8.65" height="13.04" fill="#ea7965"/>
<rect x="656.59" y="509.50" width="8.65" height="2.70" fill="#4a8e5c"/>
<rect x="656.59" y="506.98" width="8.65" height="2.52" fill="#7e97ec"/>
<rect x="656.59" y="500.14" width="8.65" height="6.83" fill="#9ce2c4"/>
<rect x="656.59" y="496.01" width="8.65" height="4.14" fill="#ecc06f"/>
<rect x="656.59" y="392.30" width="8.65" height="103.71" fill="#888888"/>
<rect x="666.19" y="525.68" width="8.65" height="22.07" fill="#6342d8"/>
<rect x="666.19" y="525.23" width="8.65" height="0.45" fill="#efbad7"/>
<rect x="666.19" y="517.59" width="8.65" height="7.64" fill="#ea7965"/>
<rect x="666.19" y="515.79" width="8.65" height="1.80" fill="#4a8e5c"/>
<rect x="666.19" y="513.27" width="8.65" height="2.52" fill="#7e97ec"/>
<rect x="666.19" y="507.88" width="8.65" height="5.40" fill="#9ce2c4"/>
<rect x="666.19" y="505.54" width="8.65" height="2.34" fill="#ecc06f"/>
<rect x="666.19" y="432.10" width="8.65" height="73.44" fill="#888888"/>
<rect x="675.80" y="532.16" width="8.65" height="15.59" fill="#6342d8"/>
<rect x="675.80" y="531.71" width="8.65" height="0.45" fill="#efbad7"/>
<rect x="675.80" y="525.32" width="8.65" height="6.38" fill="#ea7965"/>
<rect x="675.80" y="524.06" width="8.65" height="1.26" fill="#4a8e5c"/>
<rect x="675.80" y="522.99" width="8.65" height="1.08" fill="#7e97ec"/>
<rect x="675.80" y="515.97" width="8.65" height="7.01" fill="#9ce2c4"/>
<rect x="675.80" y="514.53" width="8.65" height="1.44" fill="#ecc06f"/>
<rect x="675.80" y="473.50" width="8.65" height="41.03" fill="#888888"/>
<rect x="685.40" y="533.78" width="8.65" height="13.97" fill="#6342d8"/>
<rect x="685.40" y="533.33" width="8.65" height="0.45" fill="#efbad7"/>
<rect x="685.40" y="526.58" width="8.65" height="6.74" fill="#ea7965"/>
<rect x="685.40" y="525.32" width="8.65" height="1.26" fill="#4a8e5c"/>
<rect x="685.40" y="523.88" width="8.65" height="1.44" fill="#7e97ec"/>
<rect x="685.40" y="517.23" width="8.65" height="6.65" fill="#9ce2c4"/>
<rect x="685.40" y="515.97" width="8.65" height="1.26" fill="#ecc06f"/>
<rect x="685.40" y="451.00" width="8.65" height="64.97" fill="#888888"/>
<rect x="695.01" y="528.02" width="8.65" height="19.73" fill="#6342d8"/>
<rect x="695.01" y="527.57" width="8.65" height="0.45" fill="#efbad7"/>
<rect x="695.01" y="517.59" width="8.65" height="9.98" fill="#ea7965"/>
<rect x="695.01" y="514.53" width="8.65" height="3.06" fill="#4a8e5c"/>
<rect x="695.01" y="511.83" width="8.65" height="2.70" fill="#7e97ec"/>
<rect x="695.01" y="505.54" width="8.65" height="6.29" fill="#9ce2c4"/>
<rect x="695.01" y="501.40" width="8.65" height="4.14" fill="#ecc06f"/>
<rect x="695.01" y="370.90" width="8.65" height="130.50" fill="#888888"/>
<rect x="704.62" y="531.08" width="8.65" height="16.67" fill="#6342d8"/>
<rect x="704.62" y="530.63" width="8.65" height="0.45" fill="#efbad7"/>
<rect x="704.62" y="522.99" width="8.65" height="7.64" fill="#ea7965"/>
<rect x="704.62" y="521.19" width="8.65" height="1.80" fill="#4a8e5c"/>
<rect x="704.62" y="518.67" width="8.65" height="2.52" fill="#7e97ec"/>
<rect x="704.62" y="512.19" width="8.65" height="6.47" fill="#9ce2c4"/>
<rect x="704.62" y="509.14" width="8.65" height="3.06" fill="#ecc06f"/>
<rect x="704.62" y="393.70" width="8.65" height="115.44" fill="#888888"/>
<rect x="714.22" y="532.16" width="8.65" height="15.59" fill="#6342d8"/>
<rect x="714.22" y="531.71" width="8.65" height="0.45" fill="#efbad7"/>
<rect x="714.22" y="525.32" width="8.65" height="6.38" fill="#ea7965"/>
<rect x="714.22" y="523.88" width="8.65" height="1.44" fill="#4a8e5c"/>
<rect x="714.22" y="522.63" width="8.65" height="1.26" fill="#d3db6f"/>
<rect x="714.22" y="521.19" width="8.65" height="1.44" fill="#7e97ec"/>
<rect x="714.22" y="514.89" width="8.65" height="6.29" fill="#9ce2c4"/>
<rect x="714.22" y="511.83" width="8.65" height="3.06" fill="#ecc06f"/>
<rect x="714.22" y="395.00" width="8.65" height="116.83" fill="#888888"/>
<rect x="723.83" y="531.08" width="8.65" height="16.67" fill="#6342d8"/>
<rect x="723.83" y="530.63" width="8.65" height="0.45" fill="#efbad7"/>
<rect x="723.83" y="521.37" width="8.65" height="9.26" fill="#ea7965"/>
<rect x="723.83" y="518.67" width="8.65" height="2.70" fill="#4a8e5c"/>
<rect x="723.83" y="514.89" width="8.65" height="3.78" fill="#7e97ec"/>
<rect x="723.83" y="506.80" width="8.65" height="8.09" fill="#9ce2c4"/>
<rect x="723.83" y="502.84" width="8.65" height="3.96" fill="#ecc06f"/>
<rect x="723.83" y="362.80" width="8.65" height="140.04" fill="#888888"/>
<rect x="733.43" y="533.78" width="8.65" height="13.97" fill="#6342d8"/>
<rect x="733.43" y="533.33" width="8.65" height="0.45" fill="#efbad7"/>
<rect x="733.43" y="526.58" width="8.65" height="6.74" fill="#ea7965"/>
<rect x="733.43" y="522.63" width="8.65" height="3.96" fill="#4a8e5c"/>
<rect x="733.43" y="521.37" width="8.65" height="1.26" fill="#7e97ec"/>
<rect x="733.43" y="515.97" width="8.65" height="5.40" fill="#9ce2c4"/>
<rect x="733.43" y="511.83" width="8.65" height="4.14" fill="#ecc06f"/>
<rect x="733.43" y="404.00" width="8.65" height="107.83" fill="#888888"/>
<rect x="743.04" y="537.55" width="8.65" height="10.20" fill="#6342d8"/>
<rect x="743.04" y="537.10" width="8.65" height="0.45" fill="#efbad7"/>
<rect x="743.04" y="531.98" width="8.65" height="5.13" fill="#ea7965"/>
<rect x="743.04" y="529.46" width="8.65" height="2.52" fill="#7e97ec"/>
<rect x="743.04" y="525.32" width="8.65" height="4.14" fill="#9ce2c4"/>
<rect x="743.04" y="523.53" width="8.65" height="1.80" fill="#ecc06f"/>
<rect x="743.04" y="471.00" width="8.65" height="52.53" fill="#888888"/>
<rect x="752.65" y="537.55" width="8.65" height="10.20" fill="#6342d8"/>
<rect x="752.65" y="537.10" width="8.65" height="0.45" fill="#efbad7"/>
<rect x="752.65" y="532.16" width="8.65" height="4.95" fill="#ea7965"/>
<rect x="752.65" y="530.72" width="8.65" height="1.44" fill="#4a8e5c"/>
<rect x="752.65" y="529.46" width="8.65" height="1.26" fill="#7e97ec"/>
<rect x="752.65" y="522.63" width="8.65" height="6.83" fill="#9ce2c4"/>
<rect x="752.65" y="521.19" width="8.65" height="1.44" fill="#ecc06f"/>
<rect x="752.65" y="462.90" width="8.65" height="58.29" fill="#888888"/>
<rect x="762.25" y="531.08" width="8.65" height="16.67" fill="#6342d8"/>
<rect x="762.25" y="530.63" width="8.65" height="0.45" fill="#efbad7"/>
<rect x="762.25" y="525.32" width="8.65" height="5.31" fill="#ea7965"/>
<rect x="762.25" y="523.53" width="8.65" height="1.80" fill="#4a8e5c"/>
<rect x="762.25" y="521.37" width="8.65" height="2.16" fill="#7e97ec"/>
<rect x="762.25" y="514.89" width="8.65" height="6.47" fill="#9ce2c4"/>
<rect x="762.25" y="511.83" width="8.65" height="3.06" fill="#ecc06f"/>
<rect x="762.25" y="440.30" width="8.65" height="71.53" fill="#888888"/>
<rect x="771.86" y="529.82" width="8.65" height="17.93" fill="#6342d8"/>
<rect x="771.86" y="529.37" width="8.65" height="0.45" fill="#efbad7"/>
<rect x="771.86" y="521.37" width="8.65" height="8.00" fill="#ea7965"/>
<rect x="771.86" y="519.93" width="8.65" height="1.44" fill="#4a8e5c"/>
<rect x="771.86" y="518.67" width="8.65" height="1.26" fill="#7e97ec"/>
<rect x="771.86" y="512.19" width="8.65" height="6.47" fill="#9ce2c4"/>
<rect x="771.86" y="509.14" width="8.65" height="3.06" fill="#ecc06f"/>
<rect x="771.86" y="449.40" width="8.65" height="59.74" fill="#888888"/>
<rect x="781.46" y="528.38" width="8.65" height="19.37" fill="#6342d8"/>
<rect x="781.46" y="527.93" width="8.65" height="0.45" fill="#efbad7"/>
<rect x="781.46" y="517.59" width="8.65" height="10.34" fill="#ea7965"/>
<rect x="781.46" y="514.89" width="8.65" height="2.70" fill="#4a8e5c"/>
<rect x="781.46" y="513.27" width="8.65" height="1.62" fill="#7e97ec"/>
<rect x="781.46" y="506.80" width="8.65" height="6.47" fill="#9ce2c4"/>
<rect x="781.46" y="503.74" width="8.65" height="3.06" fill="#ecc06f"/>
<rect x="781.46" y="439.00" width="8.65" height="64.74" fill="#888888"/>
<rect x="791.07" y="527.12" width="8.65" height="20.63" fill="#6342d8"/>
<rect x="791.07" y="526.67" width="8.65" height="0.45" fill="#efbad7"/>
<rect x="791.07" y="509.50" width="8.65" height="17.18" fill="#ea7965"/>
<rect x="791.07" y="506.80" width="8.65" height="2.70" fill="#4a8e5c"/>
<rect x="791.07" y="504.10" width="8.65" height="2.70" fill="#7e97ec"/>
<rect x="791.07" y="494.75" width="8.65" height="9.35" fill="#9ce2c4"/>
<rect x="791.07" y="492.05" width="8.65" height="2.70" fill="#ecc06f"/>
<rect x="791.07" y="408.10" width="8.65" height="83.95" fill="#888888"/>
<rect x="800.68" y="526.58" width="8.65" height="21.17" fill="#6342d8"/>
<rect x="800.68" y="525.50" width="8.65" height="1.08" fill="#efbad7"/>
<rect x="800.68" y="514.89" width="8.65" height="10.61" fill="#ea7965"/>
<rect x="800.68" y="512.19" width="8.65" height="2.70" fill="#4a8e5c"/>
<rect x="800.68" y="510.94" width="8.65" height="1.26" fill="#7e97ec"/>
<rect x="800.68" y="501.40" width="8.65" height="9.53" fill="#9ce2c4"/>
<rect x="800.68" y="498.88" width="8.65" height="2.52" fill="#ecc06f"/>
<rect x="800.68" y="414.80" width="8.65" height="84.08" fill="#888888"/>
<rect x="810.28" y="531.08" width="8.65" height="16.67" fill="#6342d8"/>
<rect x="810.28" y="530.63" width="8.65" height="0.45" fill="#efbad7"/>
<rect x="810.28" y="524.06" width="8.65" height="6.56" fill="#ea7965"/>
<rect x="810.28" y="522.63" width="8.65" height="1.44" fill="#4a8e5c"/>
<rect x="810.28" y="521.37" width="8.65" height="1.26" fill="#7e97ec"/>
<rect x="810.28" y="515.97" width="8.65" height="5.40" fill="#9ce2c4"/>
<rect x="810.28" y="513.27" width="8.65" height="2.70" fill="#ecc06f"/>
<rect x="810.28" y="456.10" width="8.65" height="57.17" fill="#888888"/>
<rect x="819.89" y="532.16" width="8.65" height="15.59" fill="#6342d8"/>
<rect x="819.89" y="531.71" width="8.65" height="0.45" fill="#efbad7"/>
<rect x="819.89" y="524.06" width="8.65" height="7.64" fill="#ea7965"/>
<rect x="819.89" y="521.37" width="8.65" height="2.70" fill="#4a8e5c"/>
<rect x="819.89" y="519.93" width="8.65" height="1.44" fill="#7e97ec"/>
<rect x="819.89" y="513.63" width="8.65" height="6.29" fill="#9ce2c4"/>
<rect x="819.89" y="510.94" width="8.65" height="2.70" fill="#ecc06f"/>
<rect x="819.89" y="434.90" width="8.65" height="76.04" fill="#888888"/>
<rect x="829.49" y="527.12" width="8.65" height="20.63" fill="#6342d8"/>
<rect x="829.49" y="526.67" width="8.65" height="0.45" fill="#efbad7"/>
<rect x="829.49" y="518.67" width="8.65" height="8.00" fill="#ea7965"/>
<rect x="829.49" y="516.33" width="8.65" height="2.34" fill="#4a8e5c"/>
<rect x="829.49" y="514.89" width="8.65" height="1.44" fill="#7e97ec"/>
<rect x="829.49" y="509.50" width="8.65" height="5.40" fill="#9ce2c4"/>
<rect x="829.49" y="505.54" width="8.65" height="3.96" fill="#ecc06f"/>
<rect x="829.49" y="427.00" width="8.65" height="78.54" fill="#888888"/>
<rect x="839.10" y="528.38" width="8.65" height="19.37" fill="#6342d8"/>
<rect x="839.10" y="527.93" width="8.65" height="0.45" fill="#efbad7"/>
<rect x="839.10" y="518.67" width="8.65" height="9.26" fill="#ea7965"/>
<rect x="839.10" y="515.97" width="8.65" height="2.70" fill="#4a8e5c"/>
<rect x="839.10" y="513.63" width="8.65" height="2.34" fill="#7e97ec"/>
<rect x="839.10" y="505.54" width="8.65" height="8.09" fill="#9ce2c4"/>
<rect x="839.10" y="501.40" width="8.65" height="4.14" fill="#ecc06f"/>
<rect x="839.10" y="368.20" width="8.65" height="133.20" fill="#888888"/>
<rect x="848.71" y="528.38" width="8.65" height="19.37" fill="#6342d8"/>
<rect x="848.71" y="527.93" width="8.65" height="0.45" fill="#efbad7"/>
<rect x="848.71" y="522.63" width="8.65" height="5.31" fill="#ea7965"/>
<rect x="848.71" y="519.93" width="8.65" height="2.70" fill="#4a8e5c"/>
<rect x="848.71" y="518.67" width="8.65" height="1.26" fill="#7e97ec"/>
<rect x="848.71" y="512.19" width="8.65" height="6.47" fill="#9ce2c4"/>
<rect x="848.71" y="509.50" width="8.65" height="2.70" fill="#ecc06f"/>
<rect x="848.71" y="392.40" width="8.65" height="117.10" fill="#888888"/>
<rect x="858.31" y="531.08" width="8.65" height="16.67" fill="#6342d8"/>
<rect x="858.31" y="530.63" width="8.65" height="0.45" fill="#efbad7"/>
<rect x="858.31" y="523.88" width="8.65" height="6.74" fill="#ea7965"/>
<rect x="858.31" y="521.19" width="8.65" height="2.70" fill="#4a8e5c"/>
<rect x="858.31" y="518.67" width="8.65" height="2.52" fill="#7e97ec"/>
<rect x="858.31" y="513.27" width="8.65" height="5.40" fill="#9ce2c4"/>
<rect x="858.31" y="510.94" width="8.65" height="2.34" fill="#ecc06f"/>
<rect x="858.31" y="395.10" width="8.65" height="115.84" fill="#888888"/>
<rect x="867.92" y="518.67" width="8.65" height="29.08" fill="#6342d8"/>
<rect x="867.92" y="518.22" width="8.65" height="0.45" fill="#efbad7"/>
<rect x="867.92" y="489.35" width="8.65" height="28.87" fill="#ea7965"/>
<rect x="867.92" y="483.06" width="8.65" height="6.29" fill="#4a8e5c"/>
<rect x="867.92" y="477.66" width="8.65" height="5.40" fill="#7e97ec"/>
<rect x="867.92" y="462.91" width="8.65" height="14.75" fill="#9ce2c4"/>
<rect x="867.92" y="447.09" width="8.65" height="15.83" fill="#ecc06f"/>
<rect x="867.92" y="164.30" width="8.65" height="282.79" fill="#888888"/>
<rect x="877.52" y="526.58" width="8.65" height="21.17" fill="#6342d8"/>
<rect x="877.52" y="526.13" width="8.65" height="0.45" fill="#efbad7"/>
<rect x="877.52" y="510.94" width="8.65" height="15.20" fill="#ea7965"/>
<rect x="877.52" y="506.98" width="8.65" height="3.96" fill="#4a8e5c"/>
<rect x="877.52" y="493.49" width="8.65" height="13.49" fill="#7e97ec"/>
<rect x="877.52" y="483.96" width="8.65" height="9.53" fill="#9ce2c4"/>
<rect x="877.52" y="478.92" width="8.65" height="5.04" fill="#ecc06f"/>
<rect x="877.52" y="320.40" width="8.65" height="158.52" fill="#888888"/>
<rect x="887.13" y="531.08" width="8.65" height="16.67" fill="#6342d8"/>
<rect x="887.13" y="530.63" width="8.65" height="0.45" fill="#efbad7"/>
<rect x="887.13" y="518.67" width="8.65" height="11.96" fill="#ea7965"/>
<rect x="887.13" y="515.97" width="8.65" height="2.70" fill="#4a8e5c"/>
<rect x="887.13" y="514.53" width="8.65" height="1.44" fill="#d3db6f"/>
<rect x="887.13" y="510.94" width="8.65" height="3.60" fill="#7e97ec"/>
<rect x="887.13" y="504.10" width="8.65" height="6.83" fill="#9ce2c4"/>
<rect x="887.13" y="498.88" width="8.65" height="5.22" fill="#ecc06f"/>
<rect x="887.13" y="333.60" width="8.65" height="165.28" fill="#888888"/>
<rect x="896.74" y="529.82" width="8.65" height="17.93" fill="#6342d8"/>
<rect x="896.74" y="529.37" width="8.65" height="0.45" fill="#efbad7"/>
<rect x="896.74" y="518.67" width="8.65" height="10.70" fill="#ea7965"/>
<rect x="896.74" y="515.97" width="8.65" height="2.70" fill="#4a8e5c"/>
<rect x="896.74" y="513.63" width="8.65" height="2.34" fill="#7e97ec"/>
<rect x="896.74" y="505.54" width="8.65" height="8.09" fill="#9ce2c4"/>
<rect x="896.74" y="500.14" width="8.65" height="5.40" fill="#ecc06f"/>
<rect x="896.74" y="377.70" width="8.65" height="122.44" fill="#888888"/>
<rect x="906.34" y="528.38" width="8.65" height="19.37" fill="#6342d8"/>
<rect x="906.34" y="527.93" width="8.65" height="0.45" fill="#efbad7"/>
<rect x="906.34" y="518.67" width="8.65" height="9.26" fill="#ea7965"/>
<rect x="906.34" y="514.89" width="8.65" height="3.78" fill="#4a8e5c"/>
<rect x="906.34" y="512.19" width="8.65" height="2.70" fill="#7e97ec"/>
<rect x="906.34" y="505.54" width="8.65" height="6.65" fill="#9ce2c4"/>
<rect x="906.34" y="500.14" width="8.65" height="5.40" fill="#ecc06f"/>
<rect x="906.34" y="336.10" width="8.65" height="164.04" fill="#888888"/>
<rect x="915.95" y="532.16" width="8.65" height="15.59" fill="#6342d8"/>
<rect x="915.95" y="531.71" width="8.65" height="0.45" fill="#efbad7"/>
<rect x="915.95" y="523.88" width="8.65" height="7.82" fill="#ea7965"/>
<rect x="915.95" y="519.93" width="8.65" height="3.96" fill="#4a8e5c"/>
<rect x="915.95" y="518.67" width="8.65" height="1.26" fill="#7e97ec"/>
<rect x="915.95" y="512.19" width="8.65" height="6.47" fill="#9ce2c4"/>
<rect x="915.95" y="506.80" width="8.65" height="5.40" fill="#ecc06f"/>
<rect x="915.95" y="408.10" width="8.65" height="98.70" fill="#888888"/>
<rect x="925.55" y="531.08" width="8.65" height="16.67" fill="#6342d8"/>
<rect x="925.55" y="530.63" width="8.65" height="0.45" fill="#efbad7"/>
<rect x="925.55" y="522.63" width="8.65" height="8.00" fill="#ea7965"/>
<rect x="925.55" y="518.67" width="8.65" height="3.96" fill="#4a8e5c"/>
<rect x="925.55" y="515.97" width="8.65" height="2.70" fill="#7e97ec"/>
<rect x="925.55" y="510.94" width="8.65" height="5.04" fill="#9ce2c4"/>
<rect x="925.55" y="505.54" width="8.65" height="5.40" fill="#ecc06f"/>
<rect x="925.55" y="368.20" width="8.65" height="137.34" fill="#888888"/>
<rect x="935.16" y="531.08" width="8.65" height="16.67" fill="#6342d8"/>
<rect x="935.16" y="530.63" width="8.65" height="0.45" fill="#efbad7"/>
<rect x="935.16" y="525.32" width="8.65" height="5.31" fill="#ea7965"/>
<rect x="935.16" y="519.93" width="8.65" height="5.40" fill="#4a8e5c"/>
<rect x="935.16" y="518.67" width="8.65" height="1.26" fill="#7e97ec"/>
<rect x="935.16" y="513.27" width="8.65" height="5.40" fill="#9ce2c4"/>
<rect x="935.16" y="507.88" width="8.65" height="5.40" fill="#ecc06f"/>
<rect x="935.16" y="390.90" width="8.65" height="116.98" fill="#888888"/>
<rect x="944.77" y="537.55" width="8.65" height="10.20" fill="#6342d8"/>
<rect x="944.77" y="537.10" width="8.65" height="0.45" fill="#efbad7"/>
<rect x="944.77" y="533.42" width="8.65" height="3.69" fill="#ea7965"/>
<rect x="944.77" y="530.72" width="8.65" height="2.70" fill="#4a8e5c"/>
<rect x="944.77" y="529.46" width="8.65" height="1.26" fill="#7e97ec"/>
<rect x="944.77" y="526.76" width="8.65" height="2.70" fill="#9ce2c4"/>
<rect x="944.77" y="523.88" width="8.65" height="2.88" fill="#ecc06f"/>
<rect x="944.77" y="444.00" width="8.65" height="79.88" fill="#888888"/>
</g>
<g opacity="0.145" fill="#000" stroke="#000" stroke-width="0.00" stroke-linejoin="round" font-family="Liberation Sans" font-weight="700" font-size="56.0"><text transform="translate(396.69,352.0) scale(0.7758,1)">B</text><text transform="translate(422.80,352.0) scale(1.1992,1)">l</text><text transform="translate(436.84,352.0) scale(0.9414,1)">o</text><text transform="translate(467.32,352.0) scale(0.9075,1)">c</text><text transform="translate(491.85,352.0) scale(1.0597,1)">k</text><text transform="translate(522.26,352.0) scale(0.9419,1)">w</text><text transform="translate(560.36,352.0) scale(0.9816,1)">o</text><text transform="translate(587.90,352.0) scale(1.0552,1)">r</text><text transform="translate(606.13,352.0) scale(0.9864,1)">k</text><text transform="translate(632.88,352.0) scale(0.8259,1)">s</text></g>
<rect x="670.5" y="320.2" width="129" height="33.2" rx="9" fill="none" stroke="#000" stroke-opacity="0.10" stroke-width="1"/>
<g opacity="0.145"><text x="687.8" y="344.3" font-family="Liberation Sans" font-size="23.5" textLength="94.4" lengthAdjust="spacingAndGlyphs" fill="#000" stroke="#000" stroke-width="0.7" stroke-linejoin="round">Research</text></g>
<text x="104.0" y="571.3" text-anchor="middle" class="ax">Jul 22</text>
<text x="209.6" y="571.3" text-anchor="middle" class="ax">Aug 2</text>
<text x="315.3" y="571.3" text-anchor="middle" class="ax">Aug 13</text>
<text x="421.0" y="571.3" text-anchor="middle" class="ax">Aug 24</text>
<text x="526.6" y="571.3" text-anchor="middle" class="ax">Sep 4</text>
<text x="632.3" y="571.3" text-anchor="middle" class="ax">Sep 15</text>
<text x="738.0" y="571.3" text-anchor="middle" class="ax">Sep 26</text>
<text x="843.6" y="571.3" text-anchor="middle" class="ax">Oct 7</text>
<text x="949.3" y="571.3" text-anchor="middle" class="ax">Oct 18</text>
<line x1="594" y1="656.6" x2="953" y2="656.6" stroke="#e8a090" stroke-width="1" stroke-opacity="0.75"/>
<polyline points="70.0,656.0 740.0,656.0 745.0,655.9 746.1,655.9 747.3,655.5 748.4,655.9 749.6,655.5 750.7,655.6 751.9,655.8 753.0,655.3 754.2,655.8 755.3,655.3 756.5,655.6 757.6,655.6 758.8,655.1 759.9,654.6 761.1,655.3 762.2,655.0 763.4,654.1 764.5,653.3 765.7,653.7 766.8,653.9 768.0,652.3 769.1,654.3 770.3,651.9 771.4,653.1 772.6,653.1 773.7,652.9 774.9,651.8 776.0,650.0 777.2,652.6 778.3,651.4 779.5,651.4 780.6,652.4 781.8,651.7 782.9,653.3 784.1,653.2 785.2,652.6 786.4,650.9 787.5,651.9 788.7,652.5 789.8,651.7 791.0,652.0 792.1,652.3 793.3,650.2 794.4,650.3 795.6,652.2 796.7,651.3 797.9,651.8 799.0,651.0 800.2,651.8 801.3,652.8 802.5,650.1 803.6,652.8 804.8,651.4 805.9,649.7 807.1,652.0 808.2,650.2 809.4,644.0 810.0,630.0 810.5,632.0 811.7,637.3 812.8,641.8 814.0,643.3 815.1,643.5 816.3,639.8 817.3,639.7 817.4,640.0 818.6,645.7 819.7,647.7 820.9,645.2 822.0,644.1 823.2,647.7 824.3,648.4 825.5,651.3 826.6,647.2 827.8,646.1 828.9,645.6 830.1,647.9 831.2,651.2 832.4,649.8 833.5,647.6 834.7,651.1 835.8,650.8 837.0,653.3 838.1,653.6 839.3,653.8 840.4,651.8 841.6,653.7 842.7,653.5 843.9,653.2 845.0,652.0 846.2,654.1 847.3,653.2 848.5,653.1 849.6,652.3 850.8,652.5 851.9,652.5 853.1,653.9 854.2,653.7 855.4,653.8 856.5,652.5 857.7,652.2 858.8,654.1 860.0,654.0 861.1,653.8 862.3,653.7 863.4,652.9 864.6,652.6 865.7,651.7 866.9,649.7 868.0,644.7 869.0,641.7 869.2,643.3 870.3,648.4 871.5,650.5 872.6,651.5 873.8,652.1 874.9,651.8 876.1,651.7 877.2,653.7 878.4,651.2 879.5,651.6 880.7,651.4 881.8,651.7 883.0,653.0 884.1,653.0 885.3,653.9 886.4,652.5 887.6,654.1 888.7,654.1 889.9,653.8 891.0,653.8 892.2,653.1 893.3,653.8 895.0,651.5 897.0,653.0 899.0,650.5 901.0,652.0 903.0,651.0 905.0,652.5 906.5,650.0 908.0,652.0 910.0,651.0 912.0,652.5 914.0,651.5 916.0,652.0 917.5,648.0 918.7,644.5 919.5,651.0 921.0,650.0 922.5,652.0 924.0,647.0 925.0,646.0 926.5,649.0 928.0,646.0 929.5,650.0 931.0,648.0 932.5,652.0 934.0,649.0 935.5,651.0 937.0,646.5 938.0,648.0 939.5,651.0 941.0,647.5 942.5,650.0 944.0,652.0 945.5,652.0 947.0,648.0 948.5,645.5 950.0,646.5 951.5,647.0 953.0,649.0" fill="none" stroke="#9c9c9c" stroke-width="1.0" stroke-opacity="1" stroke-linejoin="round"/>
<polyline points="70.0,656.0 160.0,656.0 162.0,655.3 164.0,656.0 190.0,656.0 192.0,655.5 194.0,656.0 580.0,656.0 590.0,656.0 591.1,656.0 592.3,656.0 593.4,655.9 594.6,655.2 595.7,655.4 596.9,655.5 598.0,654.3 599.2,655.1 600.3,655.2 601.5,654.1 602.6,654.8 603.8,654.3 604.9,655.3 606.1,655.6 607.2,655.9 608.4,655.6 609.5,655.4 610.7,655.7 611.8,655.5 613.0,655.6 614.1,656.0 615.3,655.5 616.4,655.6 617.6,655.8 618.7,656.0 619.9,655.4 621.0,655.7 622.2,655.5 623.3,655.4 624.5,655.5 625.6,655.4 626.8,655.8 627.9,655.5 629.1,655.7 630.2,655.4 631.4,655.4 632.5,656.0 633.7,656.0 634.8,655.9 636.0,654.4 637.1,654.3 638.3,653.4 639.4,653.7 640.6,652.7 641.7,652.4 642.9,651.4 644.0,649.7 645.2,648.5 646.3,646.3 646.5,647.3 647.5,648.8 648.6,650.4 649.8,651.4 650.9,651.1 652.1,652.1 653.2,653.6 654.4,651.9 655.5,651.9 656.7,652.4 657.8,653.4 659.0,653.4 660.1,654.6 661.3,653.5 662.4,653.6 663.6,653.9 664.7,654.3 665.9,652.5 667.0,652.1 668.2,654.3 669.3,652.6 670.5,653.5 671.6,654.1 672.8,653.8 673.9,652.7 675.1,652.4 676.2,654.4 677.4,653.0 678.5,654.4 679.7,652.8 680.8,653.7 682.0,652.4 683.1,651.6 684.3,652.5 685.4,650.8 686.6,652.3 687.7,652.6 688.9,650.7 690.0,652.2 691.2,652.0 692.3,651.7 693.5,651.3 694.6,652.8 695.8,653.4 696.9,651.3 698.1,653.1 699.2,651.6 700.4,651.9 701.5,653.3 702.7,653.0 703.8,652.8 705.0,652.4 706.1,652.5 707.3,652.5 708.4,652.1 709.6,651.0 710.7,651.9 711.9,651.8 713.0,650.7 714.2,651.8 715.3,651.3 716.5,649.2 717.6,650.8 718.8,651.2 719.9,653.1 721.1,652.3 722.2,653.4 723.4,655.8 724.5,655.3 725.7,655.3 726.8,655.8 728.0,655.3 729.1,655.4 730.3,655.2 731.4,655.5 732.6,655.2 733.7,655.2 734.9,655.8 736.0,655.8 737.2,655.2 738.3,655.0 739.5,655.6 740.6,655.4 741.8,655.3 742.9,655.6 744.1,655.5 745.2,655.6 746.4,655.5 747.5,654.5 748.7,654.3 749.8,653.5 751.0,652.3 752.1,654.1 753.3,652.4 754.4,651.8 755.6,652.8 756.7,652.8 757.9,650.8 759.0,651.9 760.2,651.5 761.3,650.4 762.5,649.2 763.6,651.0 764.8,651.2 765.9,651.9 767.1,650.6 768.2,651.7 769.4,650.0 770.5,650.3 771.7,647.4 772.8,644.0 774.0,640.9 775.1,640.8 776.3,640.1 777.0,638.5 777.4,640.2 778.6,640.8 779.7,643.5 780.9,643.2 782.0,644.4 783.2,647.6 784.3,648.5 785.5,648.1 786.6,648.5 787.8,646.8 788.9,647.0 790.1,646.5 791.2,646.1 792.4,644.7 793.5,646.1 794.7,647.2 795.8,649.1 797.0,651.2 798.1,649.7 799.3,646.7 800.4,647.2 801.6,647.0 802.7,644.6 803.9,644.9 805.0,645.8 806.2,648.7 807.3,648.6 808.5,627.1 809.3,611.0 809.6,616.7 810.8,631.5 811.9,636.6 813.1,640.1 814.2,643.6 815.4,647.1 816.5,648.8 817.7,649.9 818.8,651.1 820.0,648.3 821.1,647.8 822.3,647.9 823.4,651.5 824.6,650.2 825.7,651.3 826.9,651.3 828.0,652.0 829.2,652.5 830.3,653.7 831.5,655.1 832.6,654.2 833.8,655.1 834.9,655.0 836.1,654.5 837.2,654.8 838.4,655.0 839.5,654.4 840.7,654.6 841.8,654.7 843.0,654.6 844.1,653.0 845.3,653.6 846.4,653.2 847.6,654.3 848.7,654.8 849.9,654.4 851.0,653.9 852.2,654.8 853.3,653.6 854.5,653.3 855.6,653.0 856.8,652.3 857.9,653.9 859.1,651.7 860.2,651.6 861.4,654.3 862.5,654.0 863.7,653.9 864.8,653.2 866.0,653.4 867.1,653.1 868.3,652.4 869.4,654.6 870.6,654.8 871.7,655.0 872.9,655.0 874.0,655.1 875.2,653.5 876.3,653.6 877.5,654.9 878.6,654.1 879.8,654.4 880.9,654.4 882.1,654.4 883.2,653.9 884.4,654.1 885.5,654.5 886.7,654.8 887.8,654.7 889.0,655.0 890.1,654.4 891.3,654.1 892.4,654.6 893.6,655.0 894.7,654.8 895.9,654.4 897.0,654.0 898.2,653.6 899.3,654.3 900.5,653.5 901.6,653.9 902.8,654.3 903.9,654.4 905.1,654.3 906.2,654.0 907.4,654.5 908.5,654.1 909.7,654.5 910.8,654.9 912.0,654.4 913.1,654.1 914.3,655.1 915.4,654.5 916.6,654.4 917.7,653.6 918.9,653.5 920.0,654.4 921.2,653.5 922.3,653.8 923.5,654.7 924.6,654.4 925.8,655.0 926.9,653.9 928.1,654.2 929.2,653.9 930.4,654.0 931.5,654.2 932.7,654.1 933.8,654.3 935.0,655.0 936.1,654.2 937.3,655.2 938.4,654.9 939.6,653.8 940.7,655.1 941.9,655.0 943.0,655.0 944.2,653.8 945.3,654.9 946.5,655.2 947.6,653.9 948.8,655.1 949.9,654.0 951.1,654.3 952.2,654.1" fill="none" stroke="#7866e2" stroke-width="1.2" stroke-opacity="1" stroke-linejoin="round"/>
<line x1="70" y1="656.2" x2="592" y2="656.2" stroke="#9a6bd3" stroke-width="1.3"/>
<path d="M157.5 656 l1.5 -1.2 l1.5 0.2 l1.5 1" fill="none" stroke="#e0907a" stroke-width="1"/>
<path d="M187 656 l1 -1.3 l1 1.3" fill="none" stroke="#e0907a" stroke-width="1"/>
<rect x="906.2" y="608.3" width="47.2" height="53" rx="5.5" fill="none" stroke="#cfd1d8" stroke-width="1"/>
<rect x="900.5" y="624.5" width="10.5" height="20.5" rx="0.6" fill="#fff" stroke="#cdd0d7" stroke-width="1.1"/>
<rect x="947.8" y="624.5" width="10.5" height="20.5" rx="0.6" fill="#fff" stroke="#cdd0d7" stroke-width="1.1"/>
<g stroke="#cfd2d9" stroke-width="1"><line x1="904" y1="629.8" x2="904" y2="639.6"/><line x1="907.2" y1="629.8" x2="907.2" y2="639.6"/>
<line x1="951.5" y1="629.8" x2="951.5" y2="639.6"/><line x1="954.7" y1="629.8" x2="954.7" y2="639.6"/></g>
</svg>

<div class="sw" style="top:145.5px;background:#161616"></div><div class="lt" style="top:141.8px">All</div>
<div class="sw" style="top:176.0px;background:#888888"></div><div class="lt" style="top:172.3px">SOL-Stablecoin</div>
<div class="sw" style="top:210.7px;background:#e9bf6c"></div><div class="lt" style="top:207.0px">Bitcoin</div>
<div class="sw" style="top:245.2px;background:#95dec0"></div><div class="lt" style="top:241.6px">Stablecoin Swaps</div>
<div class="sw" style="top:279.8px;background:#6c8de8"></div><div class="lt" style="top:276.2px">LST Swaps</div>
<div class="sw" style="top:314.4px;background:#d6de62"></div><div class="lt" style="top:310.8px">Tokenized Assets</div>
<div class="sw" style="top:349.0px;background:#3f8e5d"></div><div class="lt" style="top:345.4px">Composite Assets</div>
<div class="sw" style="top:383.6px;background:#e9735f"></div><div class="lt" style="top:380.0px">Project Tokens</div>
<div class="sw" style="top:418.2px;background:#ecb7d6"></div><div class="lt" style="top:414.6px">AI Agents</div>
<div class="sw" style="top:452.9px;background:#6247dc"></div><div class="lt" style="top:449.3px">Memes</div>
<div class="frame"></div>
</div>
</body></html>
